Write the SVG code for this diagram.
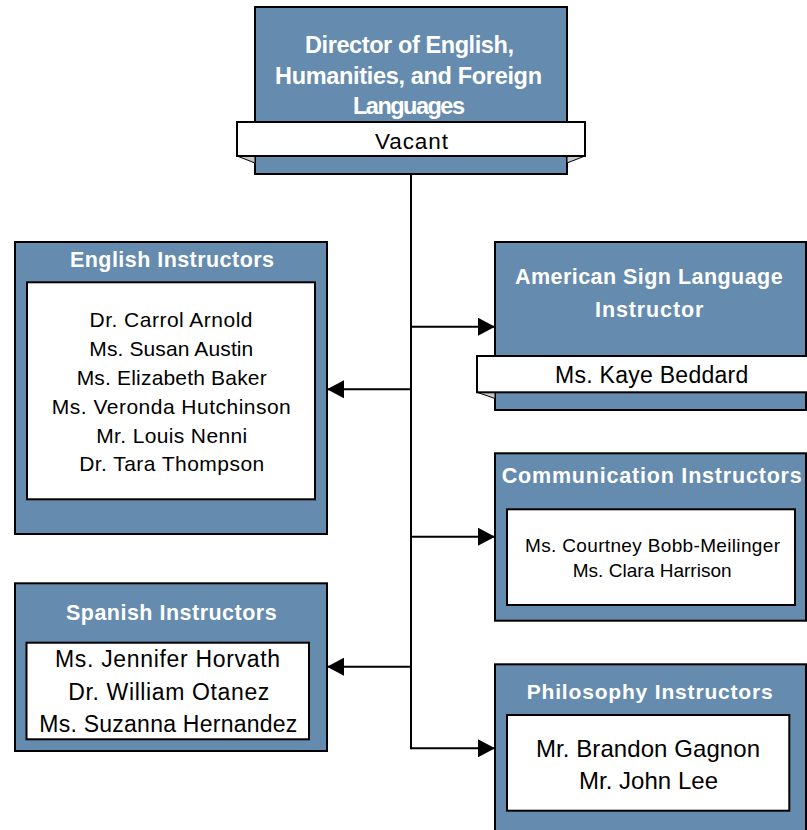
<svg xmlns="http://www.w3.org/2000/svg" width="807" height="830" viewBox="0 0 807 830">
<style>
.box{fill:#658baf;stroke:#000;stroke-width:2}
.wb{fill:#fff;stroke:#000;stroke-width:2}
.fold{fill:#c8c8c8;stroke:#000;stroke-width:1}
.t{font-family:"Liberation Sans",Arial,sans-serif;fill:#fff;font-weight:bold;text-anchor:middle}
.n{font-family:"Liberation Sans",Arial,sans-serif;fill:#000;text-anchor:middle}
.ln{stroke:#000;stroke-width:2;fill:none}
</style>
<defs>
<marker id="arr" markerUnits="userSpaceOnUse" markerWidth="18" markerHeight="18" refX="17" refY="9" orient="auto">
<path d="M0,0 L17,9 L0,18 z" fill="#000"/>
</marker>
</defs>
<rect width="807" height="830" fill="#fff"/>
<g id="connectors">
<line class="ln" x1="411" y1="174" x2="411" y2="749.3" stroke-width="2.5"/>
<line class="ln" x1="411" y1="326.7" x2="495" y2="326.7" marker-end="url(#arr)"/>
<line class="ln" x1="411" y1="389.3" x2="327" y2="389.3" marker-end="url(#arr)"/>
<line class="ln" x1="411" y1="536.7" x2="495" y2="536.7" marker-end="url(#arr)"/>
<line class="ln" x1="411" y1="666.7" x2="327" y2="666.7" marker-end="url(#arr)"/>
<line class="ln" x1="411" y1="748.3" x2="495" y2="748.3" marker-end="url(#arr)"/>
</g>
<g id="director">
<rect class="box" x="255" y="7" width="312" height="167"/>
<polygon class="fold" points="237,156 255,156 255,163"/>
<polygon class="fold" points="585,156 567,156 567,163"/>
<rect class="wb" x="237" y="122" width="348" height="34"/>
<text class="t" font-size="23.5" x="409.5" y="53" textLength="209">Director of English,</text>
<text class="t" font-size="23.5" x="408.5" y="83.5" textLength="267">Humanities, and Foreign</text>
<text class="t" font-size="23.5" x="409" y="114" textLength="112">Languages</text>
<text class="n" font-size="22.5" x="411.5" y="148.5" textLength="73">Vacant</text>
</g>
<g id="english">
<rect class="box" x="15" y="242" width="312" height="292"/>
<rect class="wb" x="27" y="282.3" width="288" height="217"/>
<text class="t" font-size="21.5" x="172" y="267.3" textLength="204">English Instructors</text>
<text class="n" font-size="21" x="171" y="326.7" textLength="163">Dr. Carrol Arnold</text>
<text class="n" font-size="21" x="171.3" y="355.7" textLength="164">Ms. Susan Austin</text>
<text class="n" font-size="21" x="171.7" y="384.7" textLength="190">Ms. Elizabeth Baker</text>
<text class="n" font-size="21" x="171.3" y="413.7" textLength="239">Ms. Veronda Hutchinson</text>
<text class="n" font-size="21" x="171.7" y="442.7" textLength="151">Mr. Louis Nenni</text>
<text class="n" font-size="21" x="171.7" y="471.2" textLength="185">Dr. Tara Thompson</text>
</g>
<g id="asl">
<rect class="box" x="495" y="242" width="311" height="168"/>
<polygon class="fold" points="477,392.3 495,392.3 495,398.5"/>
<rect class="wb" x="477" y="356" width="335" height="36.3"/>
<text class="t" font-size="21.5" x="648.8" y="284" textLength="267.7">American Sign Language</text>
<text class="t" font-size="21.5" x="649.2" y="317.3" textLength="108.3">Instructor</text>
<text class="n" font-size="23" x="651.7" y="382.7" textLength="193.3">Ms. Kaye Beddard</text>
</g>
<g id="communication">
<rect class="box" x="495" y="453.3" width="311" height="167.4"/>
<rect class="wb" x="507" y="509.3" width="288" height="95.7"/>
<text class="t" font-size="21.5" x="651.7" y="483.3" textLength="300">Communication Instructors</text>
<text class="n" font-size="19" x="652.5" y="551.7" textLength="255">Ms. Courtney Bobb-Meilinger</text>
<text class="n" font-size="19" x="652.2" y="577.3" textLength="159">Ms. Clara Harrison</text>
</g>
<g id="spanish">
<rect class="box" x="15" y="583.3" width="312" height="167.7"/>
<rect class="wb" x="26.5" y="642.7" width="282.5" height="96.6"/>
<text class="t" font-size="21.5" x="171.3" y="620" textLength="210.7">Spanish Instructors</text>
<text class="n" font-size="23" x="167.5" y="667.3" textLength="225">Ms. Jennifer Horvath</text>
<text class="n" font-size="23" x="168.8" y="700.3" textLength="201">Dr. William Otanez</text>
<text class="n" font-size="23" x="168.3" y="731.7" textLength="258">Ms. Suzanna Hernandez</text>
</g>
<g id="philosophy">
<rect class="box" x="495" y="664.3" width="311" height="180"/>
<rect class="wb" x="507" y="715" width="282.3" height="95.7"/>
<text class="t" font-size="21" x="649.7" y="699.3" textLength="246">Philosophy Instructors</text>
<text class="n" font-size="24" x="648" y="756.5" textLength="224">Mr. Brandon Gagnon</text>
<text class="n" font-size="24" x="648.5" y="788.5" textLength="139">Mr. John Lee</text>
</g>
</svg>
